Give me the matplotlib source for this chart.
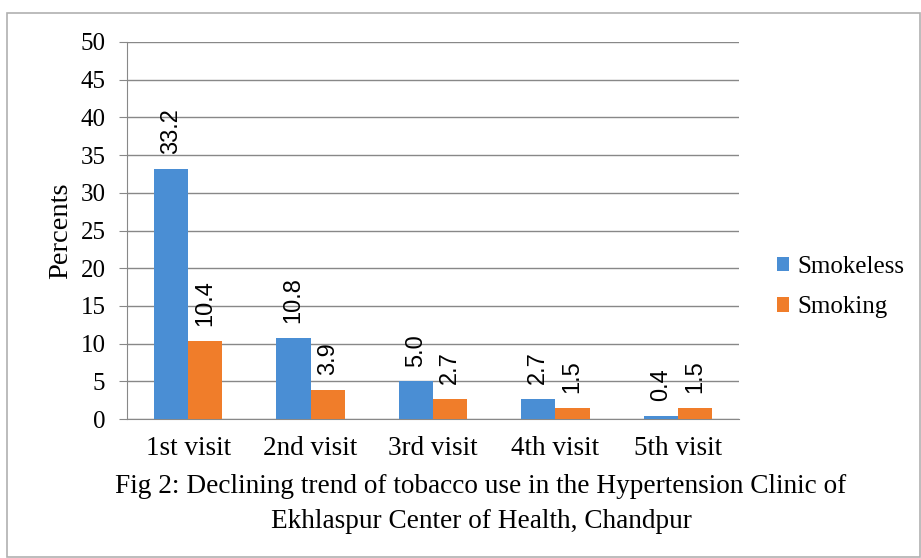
import numpy as np
import matplotlib
matplotlib.use("Agg")
import matplotlib.pyplot as plt
from matplotlib.patches import Rectangle

visits = ["1st visit", "2nd visit", "3rd visit", "4th visit", "5th visit"]
smokeless = [33.2, 10.8, 5.0, 2.7, 0.4]
smoking = [10.4, 3.9, 2.7, 1.5, 1.5]
yticks = list(range(0, 55, 5))

plt.rcParams['font.family'] = ['Liberation Serif', 'DejaVu Serif']

W, H = 921, 558
fig = plt.figure(figsize=(W / 100, H / 100), dpi=100)
ax = fig.add_axes([127 / W, 1 - 419 / H, 612 / W, 377 / H])

x = np.arange(len(visits))
w = 0.28
b1 = ax.bar(x - w / 2, smokeless, w, color='#4a8ed4', label='Smokeless', zorder=3)
b2 = ax.bar(x + w / 2, smoking, w, color='#f07d2a', label='Smoking', zorder=3)

# value labels, rotated, above each bar
for bars, vals in ((b1, smokeless), (b2, smoking)):
    for bar, v in zip(bars, vals):
        ax.annotate(f"{v:.1f}", (bar.get_x() + bar.get_width() / 2, v),
                    xytext=(0, 10.5), textcoords='offset points',
                    rotation=90, ha='center', va='bottom', fontsize=17,
                    family=['Liberation Sans', 'DejaVu Sans'])

ax.set_xlim(-0.5, len(visits) - 0.5)
ax.set_ylim(0, 50)
ax.set_yticks(yticks)
ax.set_xticks(x)
ax.set_xticklabels(visits, fontsize=19.5)
ax.tick_params(axis='y', labelsize=18, length=5.5, color='#888888', pad=10)
ax.tick_params(axis='x', length=0, pad=12.5)
ax.grid(axis='y', color='#888888', linewidth=1, zorder=0)
for s in ('top', 'right'):
    ax.spines[s].set_visible(False)
ax.spines['left'].set_color('#888888')
ax.spines['bottom'].set_color('#888888')
ax.set_ylabel("Percents", fontsize=20.5, labelpad=5)

leg = ax.legend(loc='center left', bbox_to_anchor=(1.062, 0.35), frameon=False,
                fontsize=18, handlelength=0.5, handleheight=0.5,
                handletextpad=0.3, labelspacing=0.75,
                borderpad=0, borderaxespad=0)

fig.text(481 / W, 1 - 493 / H,
         "Fig 2: Declining trend of tobacco use in the Hypertension Clinic of",
         ha='center', va='baseline', fontsize=19.6)
fig.text(481 / W, 1 - 528 / H, "Ekhlaspur Center of Health, Chandpur",
         ha='center', va='baseline', fontsize=19.6)

# outer chart frame
fig.patches.append(Rectangle((7 / W, 1 - 557 / H), 913 / W, 544 / H,
                             transform=fig.transFigure, fill=False,
                             edgecolor='#b0b0b0', linewidth=1.2))

fig.savefig("out.png", dpi=100)
